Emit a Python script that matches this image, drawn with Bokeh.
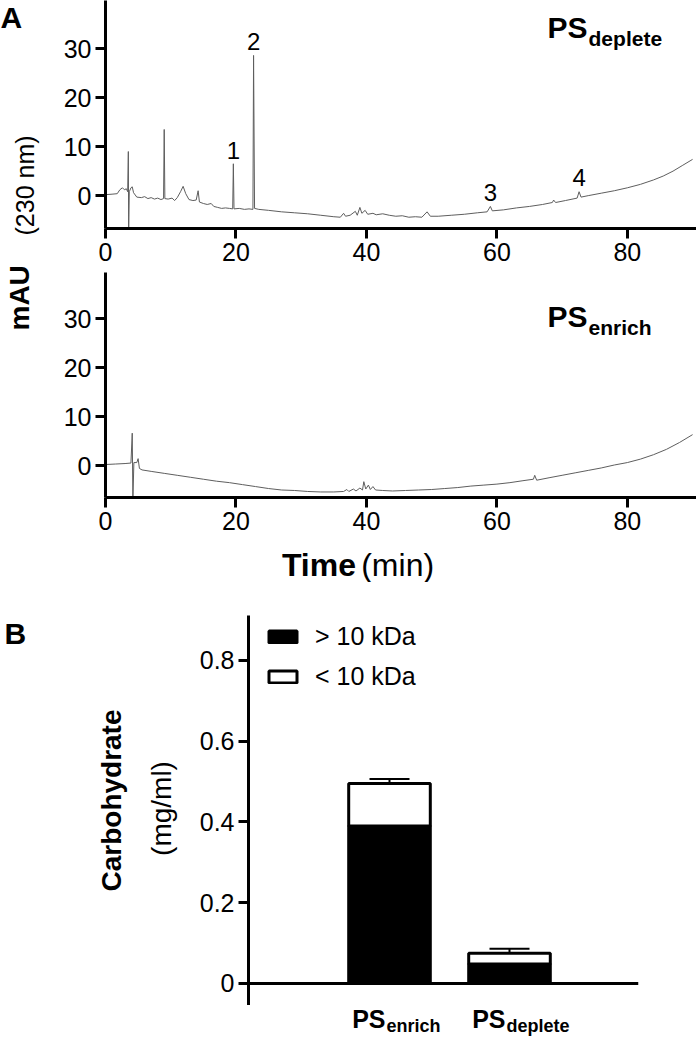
from math import pi
from bokeh.plotting import figure
from bokeh.models import (Range1d, FixedTicker, Label, Span, Whisker, TeeHead,
                          Legend, LegendItem, ColumnDataSource)
from bokeh.layouts import column, row
from bokeh.core.properties import value
from bokeh.embed import file_html
from bokeh.resources import INLINE

FONT = "Liberation Sans"

# ---------------- data: panel A (chromatograms, mAU at 230 nm vs time, min) -------------
deplete_time = [0.0, 1.0, 1.8, 2.2, 2.6, 2.9, 3.2, 3.4, 3.5, 3.55, 3.65, 3.9, 4.1, 4.3, 4.8,
                5.5, 6.0, 6.5, 7.0, 7.5, 8.0, 8.5, 8.9, 9.0, 9.1, 9.6, 10.2, 10.6, 11.0, 11.5,
                11.9, 12.3, 12.8, 13.4, 13.9, 14.2, 14.4, 15.0, 15.6, 16.2, 16.6, 17.2, 17.8,
                18.4, 19.0, 19.5, 19.6, 19.7, 20.5, 21.3, 22.0, 22.6, 22.7, 22.85, 23.5, 25.0,
                27.0, 29.0, 31.0, 33.0, 35.0, 36.0, 36.5, 36.8, 37.5, 38.3, 38.6, 39.0, 39.3,
                39.8, 40.2, 41.0, 41.5, 42.5, 43.5, 44.5, 45.5, 46.5, 47.5, 48.5, 49.3, 49.8,
                51.0, 53.0, 55.0, 57.0, 58.5, 59.0, 59.3, 61.0, 63.0, 65.0, 67.0, 68.5, 68.7,
                69.0, 70.5, 72.3, 72.6, 72.9, 74.0, 76.0, 78.0, 80.0, 82.0, 84.0, 85.5, 87.0,
                88.5, 90.0]
deplete_mau = [0.2, 0.3, 0.4, 1.2, 1.6, 1.2, 1.4, 0.8, 9.0, -7.5, 0.8, 1.6, 1.8, 0.6, -0.3,
               -0.4, -0.2, -0.6, -0.4, -0.7, -0.5, -0.8, -0.6, 13.5, -0.6, -0.7, -0.5, -1.0, -0.4, 0.8,
               1.9, 0.4, -0.8, -1.0, -0.9, 1.0, -1.3, -1.6, -1.8, -1.6, -2.2, -2.4, -2.6,
               -2.5, -2.6, -2.7, 6.5, -2.7, -2.6, -2.8, -2.7, -2.8, 28.6, -2.6, -2.8, -3.0,
               -3.3, -3.5, -3.7, -4.0, -4.3, -4.4, -3.6, -4.2, -4.0, -3.2, -4.0, -2.4, -3.6,
               -3.0, -3.8, -3.6, -3.9, -3.7, -4.0, -4.2, -4.1, -4.4, -4.3, -4.4, -3.3, -4.2,
               -4.2, -4.0, -3.8, -3.5, -3.3, -2.2, -3.1, -2.9, -2.5, -2.2, -1.8, -1.4, -0.9,
               -1.4, -1.0, -0.5, 0.8, -0.3, 0.0, 0.5, 1.0, 1.6, 2.3, 3.2, 4.0, 5.0,
               6.2, 7.4]

enrich_time = [0.0, 1.5, 3.0, 3.9, 4.1, 4.2, 4.35, 4.8, 5.0, 5.2, 5.6, 7.0, 9.0, 11.0, 13.0,
               15.0, 17.0, 19.0, 21.0, 23.0, 25.0, 27.0, 29.0, 31.0, 33.0, 35.0, 36.5, 37.0,
               37.3, 38.0, 38.4, 39.0, 39.4, 39.6, 39.9, 40.3, 40.6, 41.0, 41.4, 42.5, 44.0,
               46.0, 48.0, 50.0, 52.0, 54.0, 56.0, 58.0, 60.0, 62.0, 64.0, 65.6, 65.8, 66.1,
               68.0, 70.0, 72.0, 74.0, 76.0, 78.0, 80.0, 82.0, 84.0, 86.0, 88.0, 90.0]
enrich_mau = [0.2, 0.3, 0.4, 0.5, 6.6, -7.0, 0.6, 0.6, 1.4, -0.6, -0.9, -1.2, -1.6, -2.0, -2.4,
              -2.8, -3.2, -3.5, -3.9, -4.3, -4.7, -5.0, -5.1, -5.3, -5.4, -5.4, -5.3, -4.9,
              -5.3, -4.8, -5.2, -4.6, -5.0, -3.3, -4.8, -4.0, -4.9, -4.3, -5.0, -5.1, -5.2,
              -5.1, -5.0, -4.9, -4.7, -4.5, -4.2, -4.0, -3.8, -3.5, -3.1, -2.8, -2.0, -3.0,
              -2.5, -2.0, -1.5, -1.0, -0.5, 0.1, 0.6, 1.3, 2.2, 3.3, 4.7, 6.3]

peak_names = ["1", "2", "3", "4"]
peak_times = [19.6, 22.7, 59.0, 72.6]

x_ticks_A = [0, 20, 40, 60, 80]
y_ticks_A = [0, 10, 20, 30]

# ---------------- data: panel B (carbohydrate, mg/ml) -------------
group_main = ["PS", "PS"]
group_sub = ["enrich", "deplete"]
carb_gt10 = [0.39, 0.048]
carb_lt10 = [0.105, 0.027]
carb_err = [0.011, 0.011]
y_ticks_B = [0, 0.2, 0.4, 0.6, 0.8]
y_tick_labels_B = ["0", "0.2", "0.4", "0.6", "0.8"]
legend_labels = ["> 10 kDa", "< 10 kDa"]


def style_axes(p, size="25px"):
    for ax in p.axis:
        ax.axis_line_width = 3
        ax.axis_line_color = "black"
        ax.major_tick_line_width = 3
        ax.major_tick_line_color = "black"
        ax.major_tick_out = 10
        ax.major_tick_in = 0
        ax.minor_tick_line_color = None
        ax.major_label_text_font = FONT
        ax.major_label_text_font_size = size
        ax.major_label_text_color = "black"
        ax.major_label_standoff = 4
    p.grid.visible = False
    p.outline_line_color = None
    p.background_fill_color = "white"
    p.border_fill_color = "white"


def blank(p):
    p.grid.visible = False
    p.outline_line_color = None
    p.background_fill_color = "white"
    p.border_fill_color = "white"
    return p


def lab(p, x, y, text, size, bold=False, align="left", angle=0.0, x_offset=0):
    p.add_layout(Label(x=x, y=y, x_offset=x_offset, text=text, text_font=FONT,
                       text_font_size=size, text_font_style="bold" if bold else "normal",
                       text_align=align, text_baseline="middle", angle=angle,
                       text_color="black"))


XR = Range1d(0, 90.6)


def chrom(t, v, yr, frame_h):
    p = figure(frame_width=591, frame_height=frame_h, min_border_left=55, min_border_right=0,
               min_border_top=0, min_border_bottom=44, x_range=XR,
               y_range=Range1d(*yr), output_backend="svg", toolbar_location=None)
    p.line(t, v, line_color="#5e5e5e", line_width=1)
    p.xaxis.ticker = FixedTicker(ticks=x_ticks_A)
    p.yaxis.ticker = FixedTicker(ticks=y_ticks_A)
    style_axes(p)
    return p


# ---------- top chromatogram ----------
p1 = chrom(deplete_time, deplete_mau, (-6.7, 39.8), 228)
lab(p1, 67.76, 34.2, "PS", "30px", bold=True)
lab(p1, 74.05, 32.1, "deplete", "21px", bold=True)
for name, tp in zip(peak_names, peak_times):
    hmax = max(v for t, v in zip(deplete_time, deplete_mau) if abs(t - tp) <= 0.3)
    lab(p1, tp, hmax + 2.8, name, "24px", align="center")

# ---------- bottom chromatogram ----------
p2 = chrom(enrich_time, enrich_mau, (-6.53, 39.39), 225)
lab(p2, 67.76, 30.31, "PS", "30px", bold=True)
lab(p2, 74.05, 28.25, "enrich", "21px", bold=True)

# strip under the bottom chromatogram: x axis title
pt = blank(figure(frame_width=591, frame_height=41, min_border=0, min_border_left=55,
                  min_border_right=0, x_range=XR, y_range=Range1d(0, 41),
                  x_axis_location=None, y_axis_location=None,
                  output_backend="svg", toolbar_location=None))
lab(pt, 38.4, 18, "Time", "32px", bold=True, align="right")
lab(pt, 39.2, 18, "(min)", "32px", align="left")

# ---------- left strip with panel letter and y label ----------
pl = blank(figure(frame_width=50, frame_height=585, min_border=0, x_range=Range1d(0, 50),
                  y_range=Range1d(0, 585), x_axis_location=None, y_axis_location=None,
                  output_backend="svg", toolbar_location=None))
lab(pl, 0, 568.5, "A", "30px", bold=True)
lab(pl, 19, 255, "mAU", "28px", bold=True, angle=pi / 2)
lab(pl, 24, 350, "(230 nm)", "25px", angle=pi / 2)

# ---------- panel B ----------
xs = list(range(len(group_main)))
total = [a + b for a, b in zip(carb_gt10, carb_lt10)]
upper = [t + e for t, e in zip(total, carb_err)]
src = ColumnDataSource(dict(x=xs, gt=carb_gt10, total=total, upper=upper))

XB = Range1d(-1.175, 2.075)
p3 = figure(frame_width=390, frame_height=390, min_border_left=60, min_border_right=58,
            min_border_top=30, min_border_bottom=0, x_range=XB,
            y_range=Range1d(-0.0545, 0.911), x_axis_location=None,
            output_backend="svg", toolbar_location=None)
p3.add_layout(Whisker(base="x", lower="total", upper="upper", source=src, dimension="height",
                      line_width=2, line_color="black",
                      upper_head=TeeHead(size=40, line_width=2, line_color="black"),
                      lower_head=None))
rb = p3.vbar(x="x", width=0.68, bottom=0, top="gt", source=src, fill_color="black",
             line_color="black", line_width=3)
rw = p3.vbar(x="x", width=0.68, bottom="gt", top="total", source=src, fill_color="white",
             line_color="black", line_width=3)
p3.add_layout(Span(location=0, dimension="width", line_color="black", line_width=3))
p3.yaxis.ticker = FixedTicker(ticks=y_ticks_B)
p3.yaxis.major_label_overrides = dict(zip(y_ticks_B, y_tick_labels_B))
style_axes(p3)

legend = Legend(items=[LegendItem(label=value(legend_labels[0]), renderers=[rb]),
                       LegendItem(label=value(legend_labels[1]), renderers=[rw])],
                location=(17, 314), padding=5, margin=0, spacing=10, glyph_width=35,
                glyph_height=15, label_height=30, label_standoff=15, label_text_font=FONT,
                label_text_font_size="25px", label_text_color="black",
                border_line_color=None, background_fill_alpha=0)
p3.add_layout(legend)

# strip under the bars: group names with subscripts
p3b = blank(figure(frame_width=390, frame_height=36, min_border=0, min_border_left=60,
                   min_border_right=58, x_range=XB, y_range=Range1d(0, 36),
                   x_axis_location=None, y_axis_location=None,
                   output_backend="svg", toolbar_location=None))
for i, (m, s) in enumerate(zip(group_main, group_sub)):
    lab(p3b, i, 22.75, m, "25px", bold=True, align="right", x_offset=-4)
    lab(p3b, i, 15.3, s, "18px", bold=True, align="left", x_offset=-3)

# left strip of panel B: letter and y title
pbl = blank(figure(frame_width=188, frame_height=456, min_border=0, x_range=Range1d(0, 188),
                   y_range=Range1d(0, 456), x_axis_location=None, y_axis_location=None,
                   output_backend="svg", toolbar_location=None))
lab(pbl, 4, 408.5, "B", "30px", bold=True)
lab(pbl, 111, 241, "Carbohydrate", "28px", bold=True, align="center", angle=pi / 2)
lab(pbl, 161, 233, "(mg/ml)", "28px", align="center", angle=pi / 2)

panel_a = row(pl, column(p1, p2, pt, spacing=0), spacing=0)
panel_b = row(pbl, column(p3, p3b, spacing=0), spacing=0)
layout = column(panel_a, panel_b, spacing=0)
open("out.html", "w").write(file_html(layout, INLINE))
